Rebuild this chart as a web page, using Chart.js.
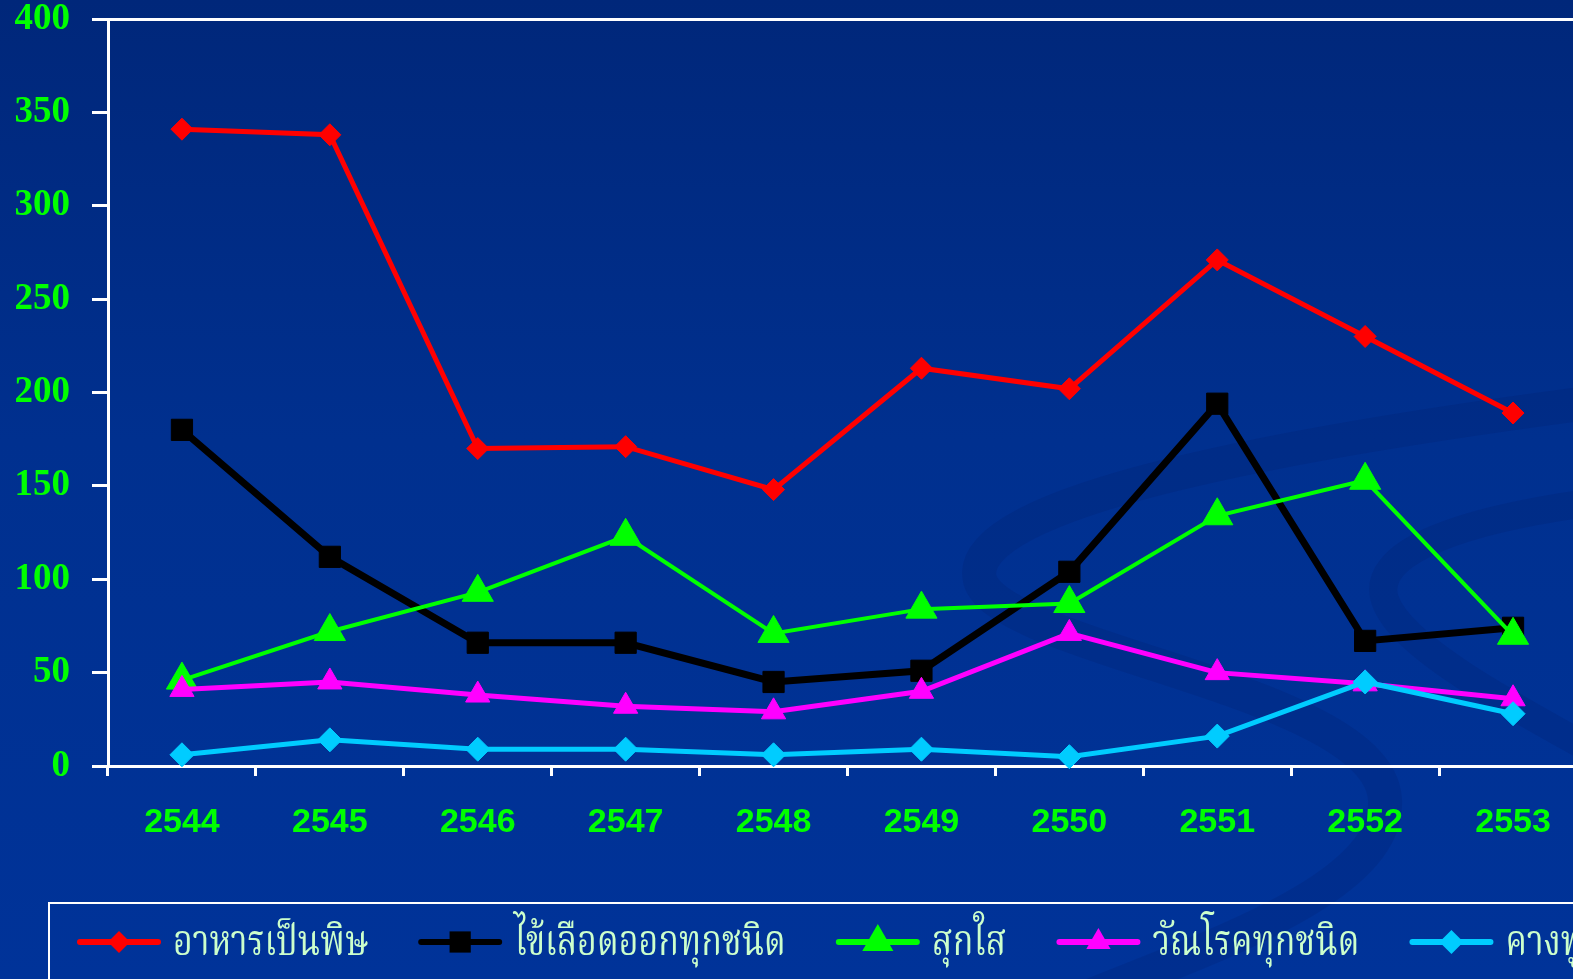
<!DOCTYPE html>
<html lang="th">
<head>
    <meta charset="UTF-8">
    <title>จำนวนผู้ป่วย 2544-2553</title>
    <script src="https://cdn.jsdelivr.net/npm/chart.js"></script>
    <style>
        html, body { margin: 0; padding: 0; width: 1573px; height: 979px; overflow: hidden; }
        body { background: linear-gradient(to bottom, #00277a 0%, #00308f 45%, #003399 100%); }
        canvas { display: block; }
    </style>
</head>
<body>
    <canvas id="grafico" width="1606" height="979"></canvas>

    <script>
        // datos
        const years = ['2544', '2545', '2546', '2547', '2548', '2549', '2550', '2551', '2552', '2553'];
        const foodPoisoning = [341, 338, 170, 171, 148, 213, 202, 271, 230, 189];
        const dengue = [180, 112, 66, 66, 45, 51, 104, 194, 67, 74];
        const chickenpox = [46, 72, 93, 123, 71, 84, 87, 134, 153, 70];
        const tuberculosis = [41, 45, 38, 32, 29, 40, 71, 50, 44, 36];
        const mumps = [6, 14, 9, 9, 6, 9, 5, 16, 45, 28];
        const seriesNames = ['อาหารเป็นพิษ', 'ไข้เลือดออกทุกชนิด', 'สุกใส', 'วัณโรคทุกชนิด', 'คางทูม'];
        const yMin = 0, yMax = 400, yStep = 50;

        const thaiFont = '"Angsana New", "Noto Serif Thai", "Noto Sans Thai", "Loma", "Garuda", "Tlwg Typo", "DejaVu Sans", sans-serif';

        function serie(label, data, color, style, radius, width, order) {
            return {
                label: label,
                data: data,
                borderColor: color,
                backgroundColor: color,
                borderWidth: width,
                pointStyle: style,
                pointRadius: radius,
                pointHoverRadius: radius,
                pointBackgroundColor: color,
                pointBorderColor: color,
                pointBorderWidth: 1,
                tension: 0,
                fill: false,
                clip: false,
                order: order
            };
        }

        // marcador de la leyenda (mismo estilo que los puntos)
        function drawMarker(c, style, x, y, r) {
            c.beginPath();
            if (style === 'rect') {
                const s = Math.SQRT1_2 * r;
                c.rect(x - s, y - s, 2 * s, 2 * s);
            } else if (style === 'triangle') {
                c.moveTo(x, y - r);
                c.lineTo(x + 0.866 * r, y + 0.5 * r);
                c.lineTo(x - 0.866 * r, y + 0.5 * r);
                c.closePath();
            } else {
                c.moveTo(x - r, y);
                c.lineTo(x, y - r);
                c.lineTo(x + r, y);
                c.lineTo(x, y + r);
                c.closePath();
            }
            c.fill();
        }

        // adorno del fondo (curvas oscuras suaves)
        const swooshes = {
            id: 'swooshes',
            beforeDraw(chart) {
                const c = chart.ctx;
                c.save();
                c.strokeStyle = 'rgba(0, 25, 95, 0.16)';
                c.lineWidth = 34;
                c.beginPath();
                c.moveTo(1610, 400);
                c.bezierCurveTo(1300, 440, 960, 500, 980, 580);
                c.bezierCurveTo(1000, 650, 1380, 690, 1385, 800);
                c.bezierCurveTo(1390, 890, 1200, 950, 1080, 1000);
                c.stroke();
                c.lineWidth = 28;
                c.beginPath();
                c.moveTo(1610, 500);
                c.bezierCurveTo(1450, 520, 1370, 555, 1385, 600);
                c.bezierCurveTo(1400, 645, 1500, 700, 1610, 760);
                c.stroke();
                c.restore();
            }
        };

        const legendBox = {
            id: 'legendBox',
            afterDraw(chart) {
                const c = chart.ctx;
                c.save();
                c.strokeStyle = '#ffffff';
                c.lineWidth = 2;
                c.strokeRect(49, 903, 1600, 140);

                const y = 942;
                let x = 77;
                c.font = '42px ' + thaiFont;
                c.textBaseline = 'middle';
                chart.data.datasets.forEach(ds => {
                    c.strokeStyle = ds.borderColor;
                    c.fillStyle = ds.borderColor;
                    c.lineWidth = 6;
                    c.lineCap = 'round';
                    c.beginPath();
                    c.moveTo(x + 3, y);
                    c.lineTo(x + 81, y);
                    c.stroke();
                    drawMarker(c, ds.pointStyle, x + 42, y, ds.pointRadius);

                    const sx = 0.81;
                    const w = c.measureText(ds.label).width * sx;
                    c.save();
                    c.translate(x + 96, y + 6);
                    c.scale(sx, 1);
                    c.fillStyle = '#ccffcc';
                    c.fillText(ds.label, 0, 0);
                    c.restore();
                    x += 96 + w + 50;
                });
                c.restore();
            }
        };

        const ctx = document.getElementById('grafico').getContext('2d');
        const chart = new Chart(ctx, {
            type: 'line',
            data: {
                labels: years,
                datasets: [
                    serie(seriesNames[0], foodPoisoning, '#ff0000', 'rectRot', 11, 5, 5),
                    serie(seriesNames[1], dengue, '#000000', 'rect', 15, 7, 4),
                    serie(seriesNames[2], chickenpox, '#00ff00', 'triangle', 18, 4, 3),
                    serie(seriesNames[3], tuberculosis, '#ff00ff', 'triangle', 14, 5, 2),
                    serie(seriesNames[4], mumps, '#00ccff', 'rectRot', 12, 5, 1)
                ]
            },
            options: {
                responsive: false,
                animation: false,
                events: [],
                layout: { padding: { top: 18, left: 0, right: 13, bottom: 123 } },
                plugins: {
                    legend: { display: false },
                    tooltip: { enabled: false }
                },
                scales: {
                    x: {
                        offset: true,
                        ticks: {
                            color: '#00ff00',
                            padding: 26,
                            maxRotation: 0,
                            font: { family: '"Liberation Sans", Arial, sans-serif', size: 34, weight: 'bold' }
                        },
                        grid: { offset: true, drawOnChartArea: false, tickColor: '#ffffff', tickLength: 10, lineWidth: 3 },
                        border: { color: '#ffffff', width: 3 },
                        afterFit: s => { s.height = 90; s.paddingLeft = 0; s.paddingRight = 0; }
                    },
                    y: {
                        min: yMin,
                        max: yMax,
                        ticks: {
                            stepSize: yStep,
                            color: '#00ff00',
                            padding: 22,
                            font: { family: '"Liberation Serif", "Times New Roman", serif', size: 37, weight: 'bold', lineHeight: 1 }
                        },
                        grid: {
                            color: c => (c.tick && c.tick.value === yMax) ? '#ffffff' : 'rgba(0,0,0,0)',
                            lineWidth: 3,
                            tickColor: '#ffffff',
                            tickLength: 16
                        },
                        border: { color: '#ffffff', width: 3 },
                        afterFit: s => { s.width = 108; s.paddingTop = 0; s.paddingBottom = 0; }
                    }
                }
            },
            plugins: [swooshes, legendBox]
        });
    </script>
</body>
</html>
